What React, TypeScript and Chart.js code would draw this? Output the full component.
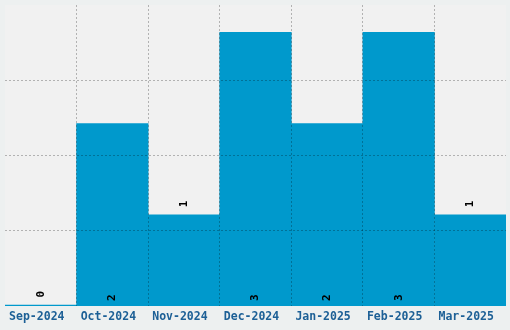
import React, { useEffect, useRef } from "react";
import { Chart, registerables } from "chart.js";

Chart.register(...registerables);

const categories = ["Sep-2024", "Oct-2024", "Nov-2024", "Dec-2024", "Jan-2025", "Feb-2025", "Mar-2025"];
const values = [0, 2, 1, 3, 2, 3, 1];
const yMax = 3.3;
const yTickCount = 5;

const BAR = "#0099cc";
const GRID = "rgba(0,0,0,0.26)";

const bgPlugin = {
  id: "bg",
  beforeDraw(chart: any) {
    const { ctx, chartArea } = chart;
    ctx.save();
    ctx.fillStyle = "#edf0f0";
    ctx.fillRect(0, 0, chart.width, chart.height);
    ctx.fillStyle = "#f1f1f1";
    ctx.fillRect(chartArea.left, chartArea.top, chartArea.right - chartArea.left, chartArea.bottom - chartArea.top);
    ctx.restore();
  },
};

const labelPlugin = {
  id: "barLabels",
  afterDraw(chart: any) {
    const { ctx } = chart;
    const meta = chart.getDatasetMeta(0);
    ctx.save();
    ctx.font = "bold 11px 'DejaVu Sans Mono'";
    ctx.fillStyle = "#000";
    ctx.textAlign = "center";
    ctx.textBaseline = "middle";
    meta.data.forEach((bar: any, i: number) => {
      const h = bar.base - bar.y;
      const y = h > 120 ? bar.base - 8 : bar.y - 11;
      ctx.save();
      ctx.translate(bar.x, y);
      ctx.rotate(-Math.PI / 2);
      ctx.fillText(String(values[i]), 0, 0);
      ctx.restore();
    });
    ctx.restore();
  },
};

export default function App() {
  const ref = useRef<HTMLCanvasElement>(null);
  useEffect(() => {
    document.body.style.margin = "0";
    const n = categories.length;
    const chart = new Chart(ref.current!, {
      type: "bar",
      data: {
        labels: categories,
        datasets: [
          {
            data: values,
            backgroundColor: BAR,
            borderWidth: 0,
            categoryPercentage: 1,
            barPercentage: 1,
            minBarLength: 1,
          },
        ],
      },
      options: {
        animation: false,
        responsive: false,
        maintainAspectRatio: false,
        layout: { padding: { left: 5, top: 5, right: 4, bottom: 2 } },
        plugins: { legend: { display: false }, tooltip: { enabled: false } },
        scales: {
          x: {
            border: { display: false, dash: [2, 2] },
            grid: {
              z: 1,
              offset: true,
              drawTicks: false,
              color: (c: any) =>
                c.type !== "tick" || c.index === 0 || c.index >= n ? "transparent" : GRID,
            } as any,
            ticks: {
              padding: 4,
              labelOffset: -4,
              color: "#1d6096",
              font: { family: "'DejaVu Sans Mono'", size: 11.5, weight: "bold" },
              maxRotation: 0,
              autoSkip: false,
            },
          },
          y: {
            min: 0,
            max: yMax,
            border: { display: false, dash: [2, 2] },
            grid: {
              z: 1,
              drawTicks: false,
              color: (c: any) =>
                c.type !== "tick" || c.index === 0 || c.index === yTickCount - 1 ? "transparent" : GRID,
            } as any,
            ticks: { display: false, count: yTickCount },
          },
        },
      },
      plugins: [bgPlugin, labelPlugin],
    });
    return () => chart.destroy();
  }, []);
  return <canvas ref={ref} width={510} height={330} style={{ display: "block" }} />;
}
